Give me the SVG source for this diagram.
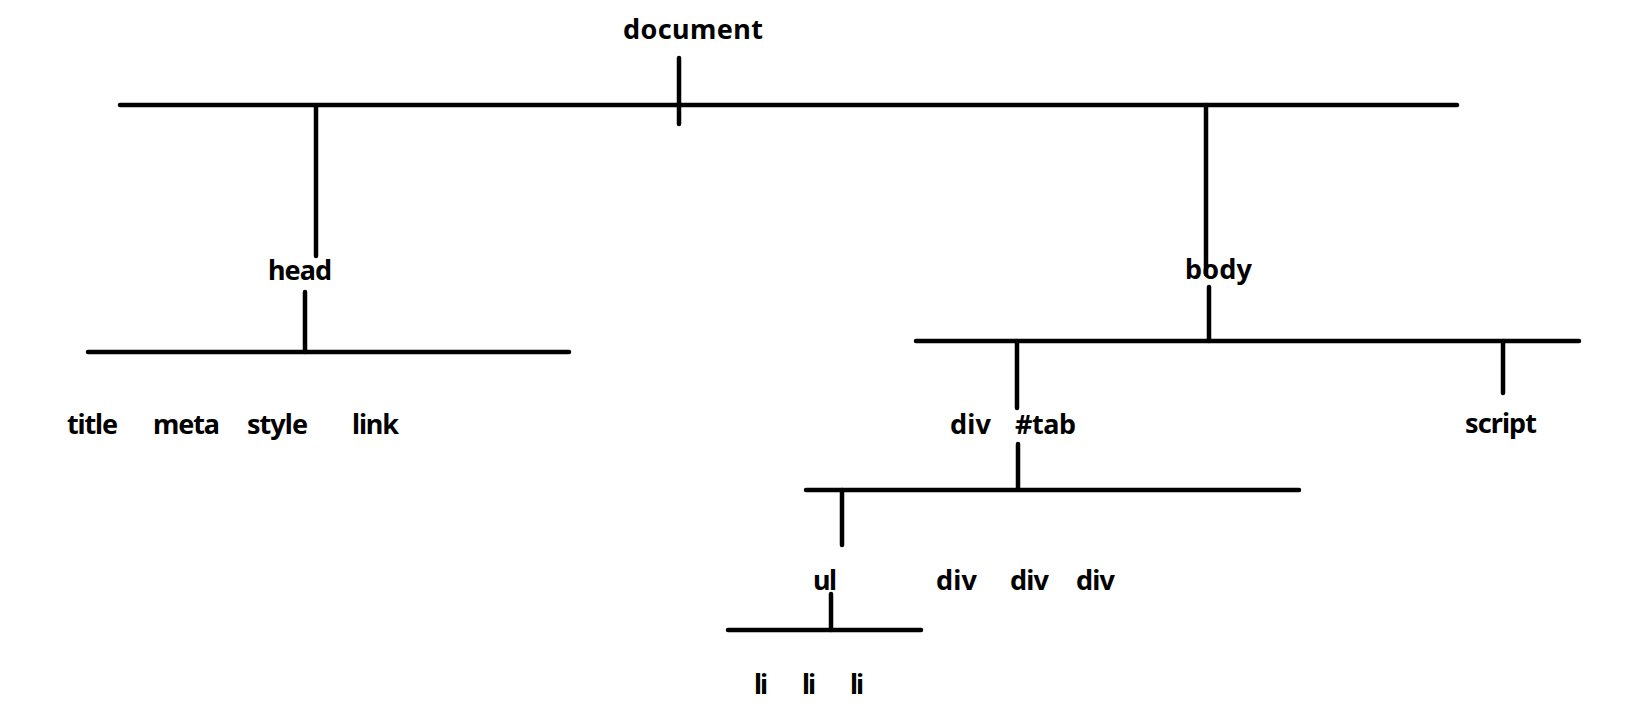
<svg xmlns="http://www.w3.org/2000/svg" width="1632" height="716" viewBox="0 0 1632 716">
<style>
.l{stroke:#000;stroke-width:4.5;stroke-linecap:round;fill:none}
.t{font-family:"Noto Sans","Open Sans",sans-serif;font-weight:bold;font-size:27px;fill:#000}
</style>
<rect width="1632" height="716" fill="#fff"/>
<g id="connectors">
<line class="l" x1="120" y1="105" x2="1457" y2="105"/>
<line class="l" x1="679" y1="58" x2="679" y2="124"/>
<line class="l" x1="316" y1="107" x2="316" y2="256"/>
<line class="l" x1="305" y1="292" x2="305" y2="352"/>
<line class="l" x1="88" y1="352" x2="569" y2="352"/>
<line class="l" x1="1206" y1="105" x2="1206" y2="274"/>
<line class="l" x1="1209" y1="287" x2="1209" y2="341"/>
<line class="l" x1="916" y1="341" x2="1579" y2="341"/>
<line class="l" x1="1017" y1="341" x2="1017" y2="408"/>
<line class="l" x1="1503" y1="341" x2="1503" y2="393"/>
<line class="l" x1="1018" y1="444" x2="1018" y2="489"/>
<line class="l" x1="806" y1="490" x2="1299" y2="490"/>
<line class="l" x1="842" y1="490" x2="842" y2="545"/>
<line class="l" x1="831" y1="594" x2="831" y2="630"/>
<line class="l" x1="728" y1="630" x2="921" y2="630"/>
</g>
<g id="document"><text class="t" x="623" y="39" textLength="140">document</text></g>
<g id="head"><text class="t" x="268" y="280" textLength="64">head</text></g>
<g id="title"><text class="t" x="67" y="434" textLength="51">title</text></g>
<g id="meta"><text class="t" x="153" y="434" textLength="67">meta</text></g>
<g id="style"><text class="t" x="247" y="434" textLength="61">style</text></g>
<g id="link"><text class="t" x="352" y="434" textLength="47">link</text></g>
<g id="body"><text class="t" x="1185" y="279" textLength="67">body</text></g>
<g id="div-tab"><text class="t" x="950" y="434" textLength="41">div</text><text class="t" x="1015" y="434" textLength="61">#tab</text></g>
<g id="script"><text class="t" x="1465" y="433" textLength="72">script</text></g>
<g id="ul"><text class="t" x="813" y="590" textLength="24">ul</text></g>
<g id="div1"><text class="t" x="936" y="590" textLength="41">div</text></g>
<g id="div2"><text class="t" x="1010" y="590" textLength="39">div</text></g>
<g id="div3"><text class="t" x="1076" y="590" textLength="39">div</text></g>
<g id="li1"><text class="t" x="754" y="694" textLength="14">li</text></g>
<g id="li2"><text class="t" x="802" y="694" textLength="14">li</text></g>
<g id="li3"><text class="t" x="850" y="694" textLength="14">li</text></g>
</svg>
